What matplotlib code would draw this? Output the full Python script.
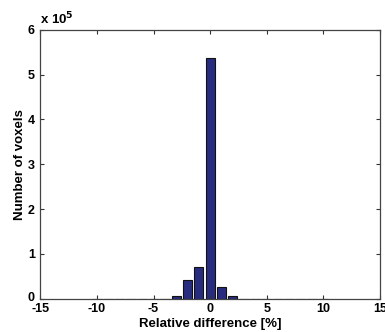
import matplotlib
matplotlib.use("Agg")
import matplotlib.pyplot as plt
import matplotlib.transforms as mtransforms
import numpy as np

plt.rcParams['font.family'] = ['Liberation Sans', 'DejaVu Sans']
plt.rcParams['axes.unicode_minus'] = False

centers = [-10, -9, -8, -7, -6, -5, -4, -3, -2, -1, 0, 1, 2, 3, 4, 5, 6, 7, 8, 9, 10]
counts_e5 = [0.003, 0.003, 0.003, 0.003, 0.003, 0.003, 0.004, 0.05, 0.415, 0.705, 5.37,
             0.26, 0.055, 0.004, 0.003, 0.003, 0.003, 0.003, 0.003, 0.003, 0.003]
xticks = [-15, -10, -5, 0, 5, 10, 15]
yticks = [0, 1, 2, 3, 4, 5, 6]

fig = plt.figure(figsize=(3.85, 3.32), dpi=100)
ax = fig.add_axes([0.1047, 0.1003, 0.8823, 0.8102])
ax.bar(centers, counts_e5, width=0.82, color='#282C7E', edgecolor='#111111', linewidth=0.8)
ax.set_xlim(-15, 15)
ax.set_ylim(0, 6)
ax.set_xticks(xticks)
ax.set_yticks(yticks)
ax.tick_params(direction='in', length=3, width=0.8, top=True, right=True,
               labelsize=9, colors='#333333', labelcolor='black')
ax.tick_params(axis='x', pad=3)
ax.tick_params(axis='y', pad=4)
for lab in ax.get_xticklabels() + ax.get_yticklabels():
    lab.set_fontweight('bold')
ylabs = ax.get_yticklabels()
ylabs[0].set_transform(ylabs[0].get_transform() +
                       mtransforms.ScaledTranslation(0, 2 / 100, fig.dpi_scale_trans))
for s in ax.spines.values():
    s.set_color('#444444')
    s.set_linewidth(0.9)
ax.set_xlabel('Relative difference [%]', fontsize=9.5, labelpad=2, fontweight='bold')
ax.set_ylabel('Number of voxels', fontsize=9.5, labelpad=1, fontweight='bold')
ax.text(0.0, 1.008, r'x 10$^{\mathbf{5}}$', transform=ax.transAxes, fontsize=9.5,
        ha='left', va='bottom', fontweight='bold')
fig.savefig('out.png', dpi=100)
